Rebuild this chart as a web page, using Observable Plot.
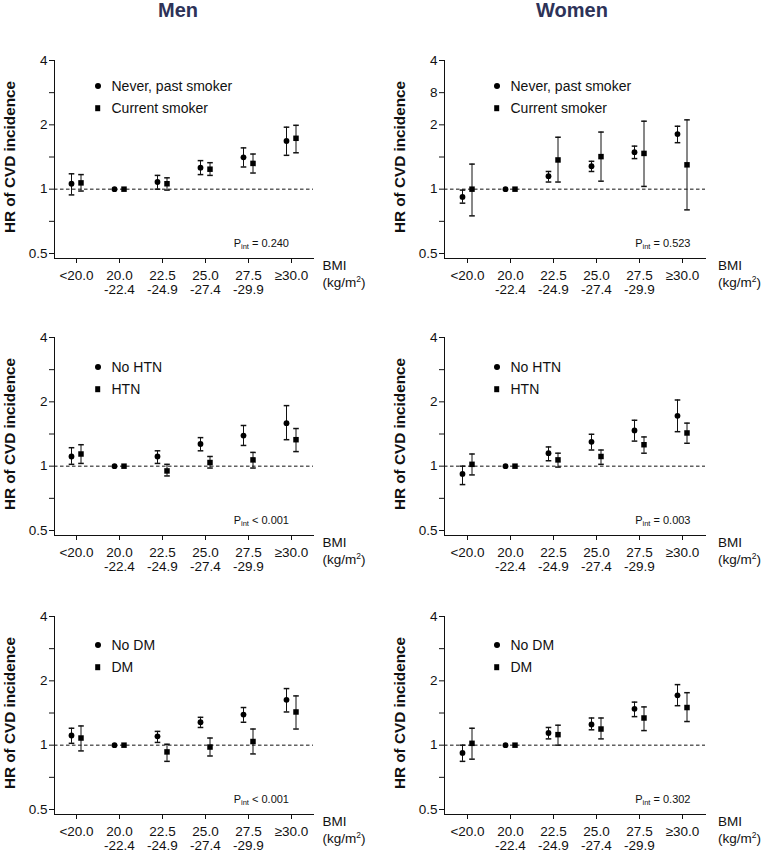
<!DOCTYPE html>
<html><head><meta charset="utf-8">
<script src="https://cdn.jsdelivr.net/npm/d3@7"></script>
<script src="https://cdn.jsdelivr.net/npm/@observablehq/plot@0.6"></script>
<style>
body{margin:0;background:#fff;font-family:"Liberation Sans",Arial,sans-serif;}
#root{position:relative;width:763px;height:854px;overflow:hidden;background:#fff;}
.panel{position:absolute;width:380px;height:263px;}
.panel svg{position:absolute;left:0;top:0;overflow:visible;}
.title{position:absolute;top:-1px;font-weight:bold;font-size:20px;color:#2d3258;transform:translateX(-50%);white-space:nowrap;}
.leg{position:absolute;font-size:14px;color:#111;white-space:nowrap;line-height:1;transform:translateY(-50%);}
.sym{position:absolute;background:#000;transform:translate(-50%,-50%);}
.pint{position:absolute;font-size:11px;color:#111;white-space:nowrap;transform:translate(-100%,-50%);line-height:1;}
.pint sub{font-size:7.5px;vertical-align:-2px;}
.bmi{position:absolute;font-size:13.5px;color:#111;line-height:16.6px;white-space:nowrap;}
.bmi sup{font-size:8.5px;vertical-align:5px;line-height:0;}
.ylab{position:absolute;font-weight:bold;font-size:15.3px;color:#111;white-space:nowrap;line-height:1;transform:translate(-50%,-50%) rotate(-90deg);}
</style>
</head><body>
<div id="root"></div>
<script>
// ---------- data ----------
const bmiCategories = ["<20.0", "20.0\n-22.4", "22.5\n-24.9", "25.0\n-27.4", "27.5\n-29.9", "≥30.0"];
const yTicks = [0.5, 0.7071, 1, 1.4142, 2, 2.8284, 4];
const yTickLabels = ["0.5", "", "1", "", "2", "", "4"];
const yTickLabelsWomenSmoking = ["0.5", "", "1", "", "2", "8", "4"];
const columnTitles = ["Men", "Women"];
const yAxisTitle = "HR of CVD incidence";

// Smoking
const menNeverSmokerHR = [1.06, 1.00, 1.08, 1.26, 1.41, 1.68];
const menNeverSmokerLo = [0.94, null, 1.00, 1.17, 1.27, 1.44];
const menNeverSmokerHi = [1.18, null, 1.16, 1.36, 1.56, 1.95];
const menCurrentSmokerHR = [1.07, 1.00, 1.06, 1.24, 1.32, 1.73];
const menCurrentSmokerLo = [0.98, null, 0.99, 1.16, 1.19, 1.48];
const menCurrentSmokerHi = [1.17, null, 1.13, 1.33, 1.46, 1.99];
const womenNeverSmokerHR = [0.92, 1.00, 1.15, 1.28, 1.49, 1.81];
const womenNeverSmokerLo = [0.86, null, 1.08, 1.21, 1.39, 1.65];
const womenNeverSmokerHi = [0.99, null, 1.21, 1.35, 1.59, 1.97];
const womenCurrentSmokerHR = [1.00, 1.00, 1.37, 1.42, 1.47, 1.30];
const womenCurrentSmokerLo = [0.75, null, 1.08, 1.09, 1.03, 0.80];
const womenCurrentSmokerHi = [1.31, null, 1.75, 1.85, 2.08, 2.11];

// Hypertension
const menNoHtnHR = [1.11, 1.00, 1.11, 1.27, 1.39, 1.59];
const menNoHtnLo = [1.02, null, 1.03, 1.18, 1.25, 1.33];
const menNoHtnHi = [1.22, null, 1.18, 1.36, 1.55, 1.92];
const menHtnHR = [1.14, 1.00, 0.95, 1.04, 1.07, 1.33];
const menHtnLo = [1.03, null, 0.90, 0.98, 0.98, 1.17];
const menHtnHi = [1.26, null, 1.02, 1.11, 1.16, 1.50];
const womenNoHtnHR = [0.92, 1.00, 1.15, 1.30, 1.47, 1.72];
const womenNoHtnLo = [0.82, null, 1.06, 1.19, 1.31, 1.45];
const womenNoHtnHi = [1.00, null, 1.23, 1.41, 1.64, 2.04];
const womenHtnHR = [1.02, 1.00, 1.07, 1.11, 1.26, 1.43];
const womenHtnLo = [0.91, null, 0.99, 1.02, 1.15, 1.28];
const womenHtnHi = [1.14, null, 1.15, 1.19, 1.37, 1.59];

// Diabetes
const menNoDmHR = [1.11, 1.00, 1.10, 1.28, 1.39, 1.63];
const menNoDmLo = [1.02, null, 1.03, 1.21, 1.28, 1.43];
const menNoDmHi = [1.20, null, 1.16, 1.35, 1.50, 1.84];
const menDmHR = [1.08, 1.00, 0.93, 0.98, 1.04, 1.43];
const menDmLo = [0.94, null, 0.84, 0.89, 0.91, 1.19];
const menDmHi = [1.23, null, 1.01, 1.08, 1.19, 1.70];
const womenNoDmHR = [0.92, 1.00, 1.14, 1.25, 1.48, 1.71];
const womenNoDmLo = [0.84, null, 1.07, 1.18, 1.36, 1.53];
const womenNoDmHi = [1.00, null, 1.21, 1.34, 1.59, 1.92];
const womenDmHR = [1.02, 1.00, 1.12, 1.19, 1.34, 1.50];
const womenDmLo = [0.86, null, 1.00, 1.07, 1.17, 1.29];
const womenDmHi = [1.20, null, 1.24, 1.34, 1.51, 1.76];

const legendSmoking = ["Never, past smoker", "Current smoker"];
const legendHtn = ["No HTN", "HTN"];
const legendDm = ["No DM", "DM"];
const pIntLabels = ["= 0.240", "= 0.523", "< 0.001", "= 0.003", "< 0.001", "= 0.302"];

// ---------- drawing ----------
const root = document.getElementById("root");

columnTitles.forEach((t, i) => {
  const d = document.createElement("div");
  d.className = "title";
  d.textContent = t;
  d.style.left = (i === 0 ? 178 : 572) + "px";
  root.appendChild(d);
});

const capSymbol = {draw(ctx) { ctx.moveTo(-2.8, 0); ctx.lineTo(2.8, 0); }};

function rows(hr, lo, hi) {
  return bmiCategories.map((c, i) => ({c, hr: hr[i], lo: lo[i], hi: hi[i]}));
}

function drawPanel(p) {
  const a = rows(...p.a), b = rows(...p.b);
  const labelMap = new Map(yTicks.map((t, i) => [t, p.tickLabels[i]]));
  const offA = -5, offB = 4.5;
  const barsA = a.filter(d => d.lo != null), barsB = b.filter(d => d.lo != null);
  const chart = Plot.plot({
    width: 380, height: 263,
    marginLeft: 54, marginRight: p.marginRight, marginTop: 20, marginBottom: 45,
    style: {fontFamily: "Liberation Sans, Arial, sans-serif", fontSize: "13.5px", color: "#111", background: "transparent", overflow: "visible"},
    x: {type: "point", domain: bmiCategories, padding: 0.479},
    y: {type: "log", domain: [0.5, 4], insetBottom: 5},
    marks: [
      Plot.ruleY([1], {stroke: "#111", strokeWidth: 1, strokeDasharray: "3.5,2.5"}),
      Plot.frame({anchor: "left", stroke: "#111"}),
      Plot.frame({anchor: "bottom", stroke: "#111"}),
      Plot.axisY({ticks: yTicks, tickFormat: d => labelMap.get(d), tickSize: 5, tickPadding: 2, label: null}),
      Plot.axisX({tickSize: 5, tickPadding: 6, lineHeight: 1.08, label: null}),
      Plot.ruleX(barsA, {x: "c", y1: "lo", y2: "hi", dx: offA, stroke: "#111"}),
      Plot.ruleX(barsB, {x: "c", y1: "lo", y2: "hi", dx: offB, stroke: "#111"}),
      Plot.dot(barsA, {x: "c", y: "lo", dx: offA, symbol: capSymbol, stroke: "#111", fill: "none"}),
      Plot.dot(barsA, {x: "c", y: "hi", dx: offA, symbol: capSymbol, stroke: "#111", fill: "none"}),
      Plot.dot(barsB, {x: "c", y: "lo", dx: offB, symbol: capSymbol, stroke: "#111", fill: "none"}),
      Plot.dot(barsB, {x: "c", y: "hi", dx: offB, symbol: capSymbol, stroke: "#111", fill: "none"}),
      Plot.dot(a, {x: "c", y: "hr", dx: offA, symbol: "circle", r: 2.9, fill: "#000", stroke: "none"}),
      Plot.dot(b, {x: "c", y: "hr", dx: offB, symbol: "square", r: 3.1, fill: "#000", stroke: "none"})
    ]
  });
  const panel = document.createElement("div");
  panel.className = "panel";
  panel.style.left = p.left + "px";
  panel.style.top = p.top + "px";
  panel.appendChild(chart);

  // y axis title
  const yl = document.createElement("div");
  yl.className = "ylab";
  yl.textContent = yAxisTitle;
  yl.style.left = "9.5px"; yl.style.top = "117px";
  panel.appendChild(yl);

  // legend
  const lx = p.legendX, ly = p.legendY;
  [[0, "50%"], [1, "0"]].forEach(([k, rad]) => {
    const s = document.createElement("div");
    s.className = "sym";
    const sz = k === 0 ? 6 : 5.6;
    s.style.width = sz + "px"; s.style.height = sz + "px"; s.style.borderRadius = rad;
    s.style.left = lx + "px"; s.style.top = (ly + k * 22.5) + "px";
    panel.appendChild(s);
    const t = document.createElement("div");
    t.className = "leg";
    t.textContent = p.legend[k];
    t.style.left = (lx + 14) + "px"; t.style.top = (ly + k * 22.5) + "px";
    panel.appendChild(t);
  });
  // P interaction
  const pi = document.createElement("div");
  pi.className = "pint";
  pi.innerHTML = "P<sub>int</sub> " + p.pint;
  pi.style.left = p.pintRight + "px"; pi.style.top = "203.5px";
  panel.appendChild(pi);
  // BMI unit label
  const bm = document.createElement("div");
  bm.className = "bmi";
  bm.innerHTML = "BMI<br>(kg/m<sup>2</sup>)";
  bm.style.left = p.bmiX + "px"; bm.style.top = "218px";
  panel.appendChild(bm);

  root.appendChild(panel);
}

const panels = [
  {left: 0, top: 40, a: [menNeverSmokerHR, menNeverSmokerLo, menNeverSmokerHi], b: [menCurrentSmokerHR, menCurrentSmokerLo, menCurrentSmokerHi],
   tickLabels: yTickLabels, legend: legendSmoking, pint: pIntLabels[0], legendY: 45.5},
  {left: 390, top: 40, a: [womenNeverSmokerHR, womenNeverSmokerLo, womenNeverSmokerHi], b: [womenCurrentSmokerHR, womenCurrentSmokerLo, womenCurrentSmokerHi],
   tickLabels: yTickLabelsWomenSmoking, legend: legendSmoking, pint: pIntLabels[1], legendY: 45.5},
  {left: 0, top: 317, a: [menNoHtnHR, menNoHtnLo, menNoHtnHi], b: [menHtnHR, menHtnLo, menHtnHi],
   tickLabels: yTickLabels, legend: legendHtn, pint: pIntLabels[2], legendY: 49.5},
  {left: 390, top: 317, a: [womenNoHtnHR, womenNoHtnLo, womenNoHtnHi], b: [womenHtnHR, womenHtnLo, womenHtnHi],
   tickLabels: yTickLabels, legend: legendHtn, pint: pIntLabels[3], legendY: 49.5},
  {left: 0, top: 596, a: [menNoDmHR, menNoDmLo, menNoDmHi], b: [menDmHR, menDmLo, menDmHi],
   tickLabels: yTickLabels, legend: legendDm, pint: pIntLabels[4], legendY: 48.5},
  {left: 390, top: 596, a: [womenNoDmHR, womenNoDmLo, womenNoDmHi], b: [womenDmHR, womenDmLo, womenDmHi],
   tickLabels: yTickLabels, legend: legendDm, pint: pIntLabels[5], legendY: 48.5}
];
panels.forEach((p, i) => {
  const men = i % 2 === 0;
  drawPanel(Object.assign({
    marginRight: men ? 67 : 65,
    legendX: men ? 97.5 : 106.5,
    pintRight: men ? 289 : 300.5,
    bmiX: men ? 322.5 : 328
  }, p));
});
</script>
</body></html>
